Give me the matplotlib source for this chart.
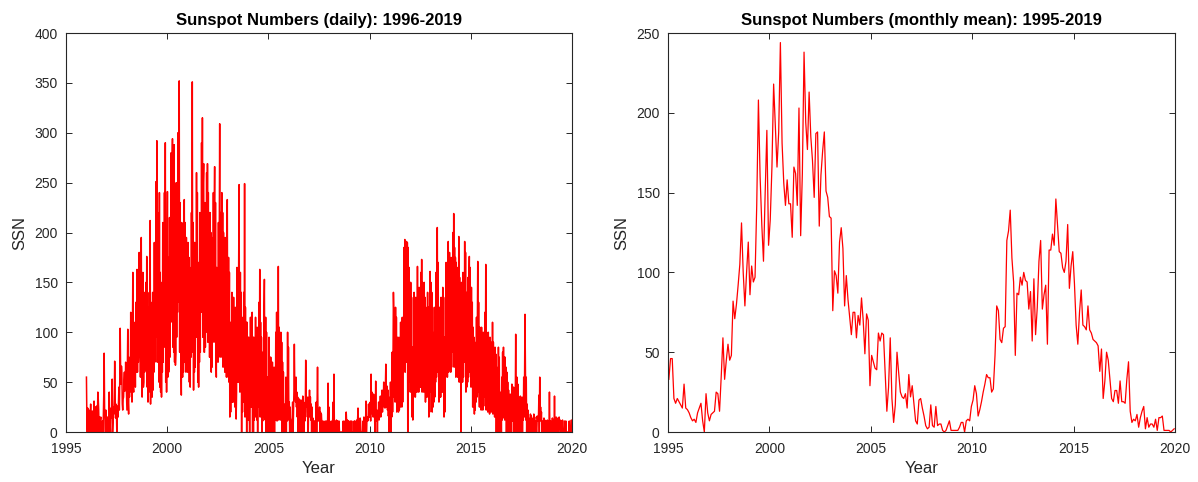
import numpy as np
import matplotlib
matplotlib.use("Agg")
import matplotlib.pyplot as plt

plt.rcParams['font.family'] = ['Liberation Sans', 'DejaVu Sans']

# daily sunspot numbers, 48 samples per year (about one every week)
daily_1996 = [55, 12, 0, 24, 11, 0, 22, 13, 0, 14, 28, 0, 13, 0, 21, 11, 0, 12, 31, 0, 14, 25, 0, 18,
              26, 0, 13, 40, 33, 22, 0, 15, 0, 12, 15, 0, 0, 0, 11, 0, 14, 36, 79, 23, 13, 0, 22, 14]
daily_1997 = [0, 12, 15, 0, 11, 0, 40, 13, 12, 0, 24, 14, 22, 53, 0, 11, 25, 18, 32, 71, 35, 14, 28, 22,
              0, 13, 26, 15, 30, 45, 22, 52, 104, 62, 48, 66, 58, 28, 22, 33, 35, 52, 60, 41, 48, 70, 55, 40]
daily_1998 = [22, 60, 103, 30, 18, 75, 35, 58, 50, 120, 40, 96, 30, 95, 160, 45, 40, 110, 55, 98, 45, 130, 60, 118,
              163, 60, 135, 70, 80, 180, 95, 150, 55, 140, 195, 70, 35, 110, 160, 45, 50, 140, 60, 120, 70, 150, 62, 176]
daily_1999 = [45, 125, 30, 110, 40, 140, 45, 212, 28, 130, 40, 120, 35, 140, 42, 125, 60, 190, 70, 170, 95, 251, 110, 292,
              70, 220, 75, 195, 50, 240, 45, 160, 40, 150, 35, 138, 60, 210, 70, 180, 85, 240, 95, 290, 50, 170, 40, 150]
daily_2000 = [241, 55, 175, 60, 70, 215, 75, 200, 110, 280, 120, 262, 294, 85, 230, 80, 288, 70, 210, 67, 80, 250, 95, 220,
              120, 300, 130, 290, 352, 80, 230, 85, 75, 37, 210, 90, 55, 190, 60, 180, 233, 70, 210, 75, 60, 195, 65, 180]
daily_2001 = [60, 190, 65, 175, 50, 165, 45, 150, 75, 220, 80, 351, 90, 210, 42, 190, 60, 190, 65, 175, 100, 260, 95, 240,
              50, 170, 45, 150, 70, 220, 80, 190, 120, 290, 125, 315, 95, 250, 269, 80, 80, 230, 85, 210, 110, 260, 100, 269]
daily_2002 = [90, 240, 95, 220, 75, 220, 80, 200, 60, 195, 65, 180, 90, 240, 95, 215, 266, 90, 230, 80, 55, 165, 82, 150,
              70, 210, 75, 190, 309, 80, 220, 75, 90, 240, 95, 220, 65, 200, 70, 180, 60, 195, 70, 175, 55, 180, 233, 60]
daily_2003 = [55, 175, 50, 160, 15, 110, 20, 95, 35, 140, 30, 125, 30, 135, 35, 120, 25, 125, 30, 13, 40, 165, 50, 150,
              50, 170, 248, 55, 40, 160, 45, 140, 0, 115, 20, 100, 30, 140, 35, 249, 15, 125, 25, 110, 0, 110, 15, 95]
daily_2004 = [12, 95, 20, 0, 20, 115, 25, 100, 25, 120, 0, 95, 0, 95, 12, 85, 15, 115, 20, 100, 12, 105, 0, 90,
              25, 130, 30, 163, 15, 110, 20, 95, 0, 80, 11, 70, 15, 120, 153, 20, 12, 115, 0, 100, 0, 55, 0, 45]
daily_2005 = [0, 95, 12, 75, 0, 75, 0, 65, 0, 70, 11, 60, 0, 65, 0, 60, 12, 100, 15, 120, 11, 95, 14, 166,
              12, 105, 18, 90, 12, 100, 15, 90, 0, 70, 0, 60, 0, 28, 0, 22, 0, 55, 0, 45, 11, 100, 13, 85]
daily_2006 = [12, 30, 0, 25, 0, 11, 0, 12, 14, 30, 0, 20, 40, 88, 45, 35, 30, 55, 25, 40, 15, 35, 0, 30,
              15, 33, 0, 28, 12, 32, 0, 27, 18, 36, 0, 30, 0, 25, 11, 20, 72, 40, 25, 30, 15, 35, 0, 28]
daily_2007 = [20, 42, 15, 35, 12, 28, 0, 25, 0, 14, 0, 11, 0, 11, 0, 0, 13, 30, 0, 28, 65, 20, 11, 15,
              12, 25, 0, 20, 0, 18, 11, 0, 0, 11, 0, 0, 0, 0, 11, 0, 0, 11, 0, 0, 12, 49, 0, 25]
daily_2008 = [0, 11, 0, 0, 0, 0, 11, 0, 13, 30, 0, 58, 0, 11, 0, 0, 0, 12, 0, 0, 11, 0, 0, 11,
              0, 0, 0, 0, 0, 0, 0, 0, 0, 11, 0, 0, 0, 11, 0, 0, 20, 11, 0, 12, 0, 0, 11, 0]
daily_2009 = [0, 0, 11, 0, 0, 11, 0, 0, 0, 0, 0, 11, 0, 11, 0, 0, 0, 12, 0, 11, 24, 0, 11, 12,
              0, 14, 11, 0, 0, 0, 0, 0, 11, 0, 15, 12, 0, 14, 11, 31, 0, 12, 15, 11, 12, 28, 15, 24]
daily_2010 = [15, 30, 11, 58, 22, 40, 18, 35, 15, 38, 20, 30, 0, 16, 51, 12, 11, 22, 0, 20, 14, 30, 12, 24,
              18, 36, 15, 30, 22, 42, 20, 38, 28, 50, 25, 45, 24, 48, 68, 40, 25, 46, 22, 42, 16, 35, 0, 30]
daily_2011 = [11, 50, 0, 42, 15, 80, 20, 70, 140, 120, 35, 110, 30, 125, 35, 115, 20, 95, 25, 85, 20, 95, 22, 85,
              25, 110, 30, 95, 25, 115, 30, 100, 60, 185, 65, 193, 60, 190, 70, 191, 70, 190, 0, 185, 50, 165, 55, 150]
daily_2012 = [40, 150, 45, 135, 15, 85, 12, 75, 35, 140, 40, 125, 35, 135, 40, 125, 40, 166, 45, 140, 40, 145, 45, 135,
              45, 160, 50, 173, 40, 150, 45, 140, 40, 150, 45, 135, 30, 125, 35, 110, 35, 140, 40, 125, 15, 100, 20, 161]
daily_2013 = [40, 150, 45, 140, 20, 100, 25, 90, 30, 125, 35, 115, 50, 160, 55, 150, 205, 60, 170, 65, 30, 125, 35, 115,
              35, 135, 40, 125, 40, 145, 45, 135, 15, 95, 20, 85, 55, 170, 60, 160, 55, 165, 191, 60, 65, 180, 70, 170]
daily_2014 = [60, 175, 65, 160, 80, 200, 90, 219, 65, 185, 70, 175, 55, 170, 60, 160, 55, 165, 60, 196, 50, 155, 55, 145,
              0, 150, 55, 140, 50, 160, 55, 150, 70, 191, 75, 180, 40, 140, 45, 130, 50, 155, 55, 145, 176, 60, 165, 65]
daily_2015 = [45, 145, 50, 130, 25, 105, 30, 95, 18, 90, 22, 80, 30, 115, 35, 105, 171, 40, 130, 45, 25, 105, 30, 95,
              22, 105, 28, 95, 22, 100, 26, 90, 35, 120, 40, 168, 22, 100, 28, 90, 20, 100, 25, 90, 18, 95, 22, 85]
daily_2016 = [20, 90, 25, 110, 18, 90, 22, 80, 15, 85, 20, 78, 0, 65, 12, 58, 0, 85, 20, 75, 0, 40, 0, 35,
              0, 55, 12, 80, 14, 85, 18, 75, 12, 75, 15, 65, 0, 60, 11, 50, 0, 42, 0, 35, 0, 38, 0, 32]
daily_2017 = [0, 48, 11, 40, 11, 45, 0, 40, 0, 30, 98, 0, 12, 55, 15, 48, 0, 35, 0, 32, 0, 36, 0, 32,
              0, 35, 0, 30, 12, 55, 15, 50, 118, 65, 12, 55, 0, 28, 0, 22, 0, 14, 0, 12, 0, 18, 0, 16]
daily_2018 = [0, 12, 0, 14, 0, 18, 11, 15, 0, 0, 11, 0, 0, 16, 11, 12, 14, 37, 0, 55, 11, 25, 13, 20,
              0, 0, 11, 0, 0, 14, 11, 12, 0, 11, 0, 0, 0, 12, 0, 11, 11, 0, 40, 0, 0, 11, 0, 0]
daily_2019 = [0, 14, 0, 12, 0, 0, 36, 0, 11, 0, 15, 0, 12, 0, 14, 0, 0, 15, 11, 12, 0, 0, 11, 0,
              0, 12, 0, 0, 0, 0, 11, 0, 0, 11, 0, 0, 0, 0, 0, 0, 0, 11, 0, 0, 0, 0, 12, 0]

# monthly mean sunspot numbers, Jan..Dec
monthly_1995 = [33, 46, 46, 21, 18, 21, 19, 17, 15, 30, 15, 14]
monthly_1996 = [12, 9, 7, 8, 6, 12, 15, 18, 7, 0, 24, 12]
monthly_1997 = [7, 11, 12, 13, 25, 24, 13, 35, 59, 33, 45, 55]
monthly_1998 = [45, 48, 82, 71, 80, 92, 105, 131, 100, 79, 100, 119]
monthly_1999 = [86, 104, 94, 97, 142, 208, 160, 130, 107, 150, 189, 117]
monthly_2000 = [133, 166, 218, 192, 166, 188, 244, 181, 156, 142, 158, 143]
monthly_2001 = [143, 122, 166, 162, 142, 203, 123, 162, 238, 194, 177, 213]
monthly_2002 = [185, 170, 147, 187, 188, 129, 161, 176, 188, 151, 147, 135]
monthly_2003 = [134, 76, 101, 98, 87, 119, 128, 115, 79, 98, 83, 72]
monthly_2004 = [61, 75, 75, 59, 73, 67, 84, 70, 49, 74, 70, 29]
monthly_2005 = [48, 44, 40, 39, 62, 57, 62, 61, 37, 13, 28, 59]
monthly_2006 = [21, 6, 17, 50, 37, 25, 22, 21, 24, 15, 36, 22]
monthly_2007 = [29, 18, 7, 5, 20, 21, 15, 10, 4, 2, 3, 17]
monthly_2008 = [4, 3, 16, 4, 5, 5, 1, 0, 1, 4, 7, 1]
monthly_2009 = [1, 1, 1, 1, 3, 6, 6, 0, 7, 8, 7, 16]
monthly_2010 = [20, 29, 24, 10, 14, 19, 25, 30, 36, 34, 34, 25]
monthly_2011 = [27, 48, 79, 76, 58, 56, 65, 66, 120, 126, 139, 109]
monthly_2012 = [94, 48, 87, 86, 97, 92, 100, 95, 94, 77, 88, 57]
monthly_2013 = [96, 61, 78, 107, 120, 77, 86, 92, 55, 114, 114, 124]
monthly_2014 = [117, 146, 129, 113, 112, 103, 100, 107, 130, 90, 104, 113]
monthly_2015 = [93, 67, 55, 75, 89, 67, 66, 64, 79, 64, 62, 58]
monthly_2016 = [57, 56, 54, 38, 52, 21, 32, 50, 45, 33, 21, 19]
monthly_2017 = [26, 26, 18, 32, 19, 19, 18, 33, 44, 13, 6, 8]
monthly_2018 = [7, 11, 3, 9, 13, 16, 2, 9, 3, 5, 5, 3]
monthly_2019 = [8, 1, 9, 9, 10, 1, 1, 1, 1, 0, 1, 2]

daily_by_year = [daily_1996, daily_1997, daily_1998, daily_1999, daily_2000, daily_2001,
                 daily_2002, daily_2003, daily_2004, daily_2005, daily_2006, daily_2007,
                 daily_2008, daily_2009, daily_2010, daily_2011, daily_2012, daily_2013,
                 daily_2014, daily_2015, daily_2016, daily_2017, daily_2018, daily_2019]
monthly_by_year = [monthly_1995, monthly_1996, monthly_1997, monthly_1998, monthly_1999,
                   monthly_2000, monthly_2001, monthly_2002, monthly_2003, monthly_2004,
                   monthly_2005, monthly_2006, monthly_2007, monthly_2008, monthly_2009,
                   monthly_2010, monthly_2011, monthly_2012, monthly_2013, monthly_2014,
                   monthly_2015, monthly_2016, monthly_2017, monthly_2018, monthly_2019]


def fractional_years(first_year, per_year):
    t, v = [], []
    for i, vals in enumerate(per_year):
        n = len(vals)
        t.extend(first_year + i + (np.arange(n) + 0.5) / n)
        v.extend(vals)
    return np.array(t), np.array(v)


t_day, ssn_day = fractional_years(1996, daily_by_year)
t_mon, ssn_mon = fractional_years(1995, monthly_by_year)

axcol = '#262626'
W, H = 1198, 482
fig = plt.figure(figsize=(W / 100, H / 100), dpi=100)
ax1 = fig.add_axes([66 / W, 1 - 432 / H, 506 / W, 399 / H])
ax2 = fig.add_axes([668 / W, 1 - 432 / H, 507 / W, 399 / H])

ax1.plot(t_day, ssn_day, color='red', lw=1.1)
ax2.plot(t_mon, ssn_mon, color='red', lw=0.9)

setup = [(ax1, 400, 'Sunspot Numbers (daily): 1996-2019'),
         (ax2, 250, 'Sunspot Numbers (monthly mean): 1995-2019')]
for ax, top, title in setup:
    ax.set_xlim(1995, 2020)
    ax.set_ylim(0, top)
    ax.set_xticks(np.arange(1995, 2021, 5))
    ax.set_yticks(np.arange(0, top + 1, 50))
    ax.tick_params(direction='in', top=True, right=True, length=4, width=0.7,
                   color=axcol, labelcolor=axcol, labelsize=10)
    ax.tick_params(axis='x', pad=7)
    ax.tick_params(axis='y', pad=6)
    for s in ax.spines.values():
        s.set_color(axcol)
        s.set_linewidth(0.8)
    ax.set_title(title, fontsize=12, fontweight='bold', pad=6)
    ax.set_xlabel('Year', fontsize=12, color=axcol, labelpad=4)
    ax.set_ylabel('SSN', fontsize=12, color=axcol, labelpad=5)

fig.savefig('out.png', dpi=100)
